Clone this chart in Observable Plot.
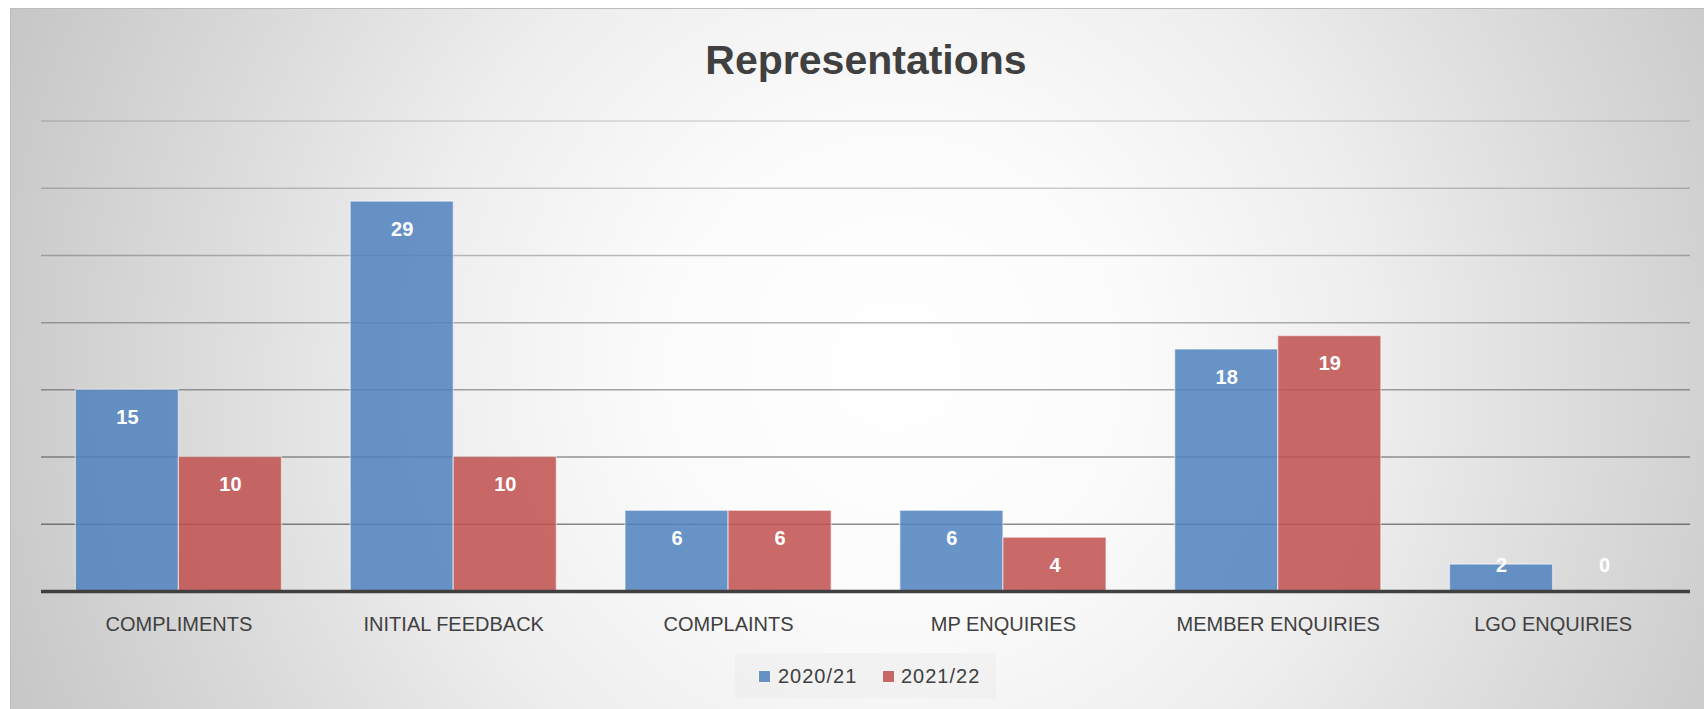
<!DOCTYPE html>
<html>
<head>
<meta charset="utf-8">
<script src="https://cdn.jsdelivr.net/npm/d3@7"></script>
<script src="https://cdn.jsdelivr.net/npm/@observablehq/plot@0.6"></script>
<style>
  html, body { margin: 0; padding: 0; background: #fff; }
  #wrap { position: relative; width: 1704px; height: 709px; overflow: hidden; background: #fff; font-family: "Liberation Sans", Arial, sans-serif; }
  #box { position: absolute; left: 10px; top: 8px; width: 1700px; height: 710px; border: 1px solid #bdbdbd;
         background: radial-gradient(circle farthest-corner at 52% 50%, #ffffff 0%, #fbfbfb 25%, #eeeeee 50%, #dcdcdc 72%, #c6c6c6 100%); }
  #title { position: absolute; left: 866px; top: 40px; transform: translateX(-50%); font-size: 41px; line-height: 41px;
           font-weight: bold; color: #404040; white-space: nowrap; }
  #chart { position: absolute; left: 0; top: 0; }
  #chart svg g[aria-label^="x-axis"] text { font-size: 20px; fill: #404040; }
  #legend { position: absolute; left: 735px; top: 653px; width: 261px; height: 45px; background: rgba(235,235,235,0.45); }
  .sw { position: absolute; width: 11px; height: 11px; top: 671px; }
  .lt { position: absolute; top: 666px; font-size: 20px; line-height: 20px; color: #404040; letter-spacing: 1px; white-space: nowrap; }
</style>
</head>
<body>
<div id="wrap">
  <div id="box"></div>
  <div id="title">Representations</div>
  <div id="chart"></div>
  <div id="legend"></div>
  <div class="sw" id="sw0" style="left:759px"></div>
  <div class="lt" id="lt0" style="left:778px"></div>
  <div class="sw" id="sw1" style="left:883px"></div>
  <div class="lt" id="lt1" style="left:901px"></div>
</div>
<script>
const categories = ["COMPLIMENTS", "INITIAL FEEDBACK", "COMPLAINTS", "MP ENQUIRIES", "MEMBER ENQUIRIES", "LGO ENQUIRIES"];
const series = ["2020/21", "2021/22"];
const values2020 = [15, 29, 6, 6, 18, 2];
const values2021 = [10, 10, 6, 4, 19, 0];
const gridTicks = [5, 10, 15, 20, 25, 30, 35];
const seriesColors = ["#4F81BD", "#C0504D"];

// group occupies 75% of each category slot (Excel gap width ~33%)
const groupWidth = 0.75;
const barWidth = groupWidth / series.length;

const data = categories.flatMap((c, ci) => [values2020, values2021].map((vals, si) => ({
  category: c, series: series[si], value: vals[ci],
  x1: ci - groupWidth / 2 + si * barWidth,
  x2: ci - groupWidth / 2 + (si + 1) * barWidth
})));

const gridMarks = gridTicks.map(t =>
  Plot.ruleY([t], {stroke: "black", strokeOpacity: 0.45 - 0.31 * (t - 5) / 30, strokeWidth: 1.5})
);

const chart = Plot.plot({
  width: 1704,
  height: 650,
  marginLeft: 41,
  marginRight: 14,
  marginTop: 120.5,
  marginBottom: 59,
  style: {background: "transparent", fontFamily: "'Liberation Sans', Arial, sans-serif", color: "#404040"},
  x: {domain: [-0.5, categories.length - 0.5], ticks: d3.range(categories.length), tickFormat: i => categories[i],
      tickSize: 0, tickPadding: 25, label: null},
  y: {domain: [0, 35], axis: null},
  color: {domain: series, range: seriesColors},
  marks: [
    ...gridMarks,
    Plot.rectY(data, {x1: "x1", x2: "x2", y: "value", fill: "series", fillOpacity: 0.85,
      stroke: "white", strokeOpacity: 0.5, strokeWidth: 1.3}),
    Plot.ruleY([0], {stroke: "#404040", strokeWidth: 3.3}),
    Plot.text(data, {x: d => (d.x1 + d.x2) / 2, y: d => Math.max(d.value, 4), dy: 28, text: d => String(d.value),
      fill: "white", fontSize: 20, fontWeight: "bold"})
  ]
});
document.getElementById("chart").appendChild(chart);

series.forEach((s, i) => {
  const sw = document.getElementById("sw" + i);
  sw.style.background = seriesColors[i];
  sw.style.opacity = 0.85;
  sw.style.outline = "1px solid rgba(255,255,255,0.5)";
  document.getElementById("lt" + i).textContent = s;
});
</script>
</body>
</html>
